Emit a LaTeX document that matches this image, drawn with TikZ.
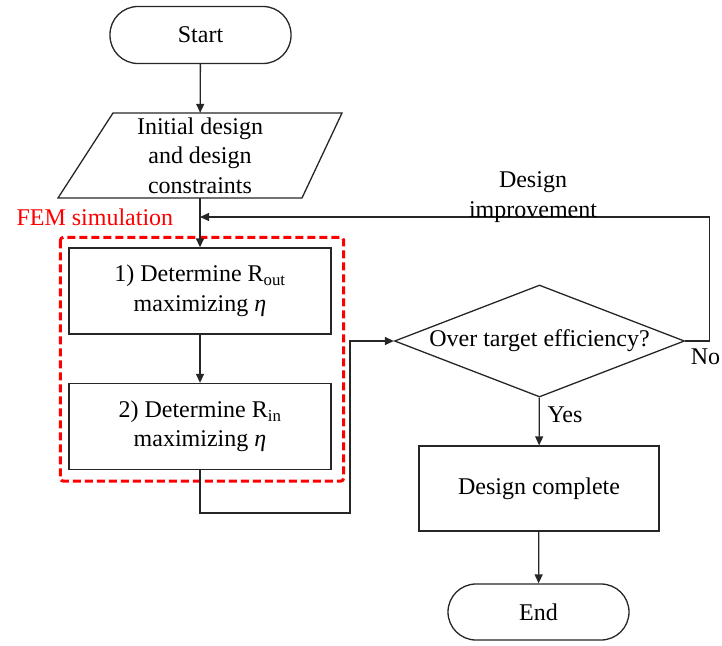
\documentclass[tikz,border=0pt]{standalone}
\usepackage{fontspec}
\setmainfont{Liberation Serif}
\usetikzlibrary{arrows.meta,shapes.geometric,calc}

\begin{document}
\begin{tikzpicture}[x=1pt,y=-1pt,
  font=\fontsize{24}{29.5}\selectfont,
  line/.style={draw=black!85, line width=1.3pt},
  arr/.style={line, -{Triangle[length=9pt,width=8pt]}},
  terminal/.style={line, rounded corners=28pt, minimum width=181pt, minimum height=57pt, inner sep=0pt},
  procbox/.style={line, minimum width=262pt, minimum height=86pt, align=center, inner sep=0pt},
  decision/.style={line, diamond, aspect=2.6, minimum width=290pt, minimum height=112pt, inner sep=0pt},
  frame/.style={draw=red, line width=3pt, dash pattern=on 8pt off 4pt, rounded corners=3pt},
]
\useasboundingbox (0,0) rectangle (722,645);

% main column
\node[terminal] (start) at (200.5,35) {Start};
\node[align=center, minimum width=190pt, minimum height=85pt, inner sep=0pt] (init) at (200,155.5)
  {Initial design\\and design\\constraints};
\draw[line] ($(init.center)+(-87,-42.5)$) -- ($(init.center)+(142,-42.5)$)
  -- ($(init.center)+(102,42.5)$) -- ($(init.center)+(-142,42.5)$) -- cycle;
\node[procbox] (box1) at (200,291) {1) Determine R\textsubscript{out}\\maximizing {\itshape η}};
\node[procbox] (box2) at (200,426.5) {2) Determine R\textsubscript{in}\\maximizing {\itshape η}};

% FEM group
\draw[frame] ($(box1.north west)+(-8,-10)$) rectangle ($(box2.south east)+(12,11)$);
\node[anchor=west, text=red] (fem) at (13,217) {FEM simulation};

% right column
\node[decision] (dia) at (539.5,341) {Over target efficiency?};
\node[procbox, minimum width=240pt, minimum height=85pt] (done) at (539,488.5) {Design complete};
\node[terminal, minimum height=56pt] (end) at (538.5,612) {End};

\coordinate (merge) at (init.south |- 0,217);

% connectors
\draw[arr] (start) -- (init);
\draw[arr] (init) -- (box1);
\draw[arr] (box1) -- (box2);
\draw[arr] (box2.south) |- (350,513) |- (dia.west);
\draw[arr] (dia.east) -- ++(24,0) |- (merge);
\draw[arr] (dia) -- (done);
\draw[arr] (done) -- (end);

% labels
\node[align=center] (impr) at (533,197) {Design\\improvement};
\node (no) at (705.5,357) {No};
\node (yes) at (565,415) {Yes};
\end{tikzpicture}
\end{document}
